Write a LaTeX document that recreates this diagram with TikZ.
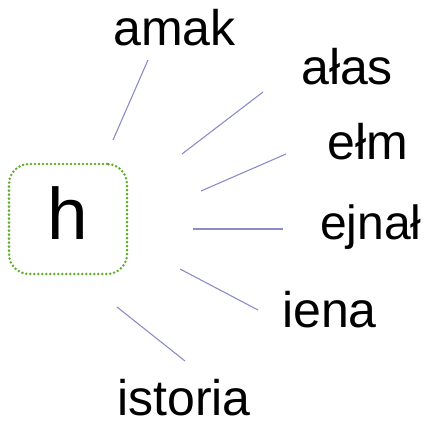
\documentclass[tikz,border=0pt]{standalone}
\usepackage{fontspec}
\setmainfont{Liberation Sans}

\definecolor{hubgreen}{RGB}{96,172,44}
\definecolor{spokeblue}{RGB}{140,140,200}

\tikzset{
  word/.style={anchor=base west, inner sep=0pt, font=\fontsize{50}{52}\selectfont},
  spoke/.style={spokeblue, line width=1.1pt},
  hubbox/.style={draw=hubgreen, line width=2.8pt, line cap=round,
    dash pattern=on 0pt off 4pt, rounded corners=20pt,
    minimum width=118pt, minimum height=110pt, inner sep=0pt,
    text height=42pt, text depth=0pt, font=\fontsize{73}{75}\selectfont}
}

\begin{document}
\begin{tikzpicture}[x=1pt,y=-1pt]
  \useasboundingbox (0,0) rectangle (437,422);
  % hub
  \node[hubbox] (h) at (68,219) {h};
  % words
  \node[word] (amak) at (113,46) {amak};
  \node[word] (alas) at (301,85) {ałas};
  \node[word] (elm) at (327,160) {ełm};
  \node[word, font=\fontsize{48}{50}\selectfont] (ejnal) at (320,240) {ejnał};
  \node[word] (iena) at (282,328) {iena};
  \node[word] (istoria) at (117,416) {istoria};
  % spoke ends
  \coordinate (amak-a) at (113,140);  \coordinate (amak-b) at (148,60);
  \coordinate (alas-a) at (182,154);  \coordinate (alas-b) at (263,92);
  \coordinate (elm-a) at (201,191);   \coordinate (elm-b) at (286,154);
  \coordinate (ejnal-a) at (193,229); \coordinate (ejnal-b) at (283,229);
  \coordinate (iena-a) at (180,269);  \coordinate (iena-b) at (258,310);
  \coordinate (ist-a) at (117,307);   \coordinate (ist-b) at (185,361);
  \draw[spoke] (amak-a)--(amak-b);
  \draw[spoke] (alas-a)--(alas-b);
  \draw[spoke] (elm-a)--(elm-b);
  \draw[spoke] (ejnal-a)--(ejnal-b);
  \draw[spoke] (iena-a)--(iena-b);
  \draw[spoke] (ist-a)--(ist-b);
\end{tikzpicture}
\end{document}
